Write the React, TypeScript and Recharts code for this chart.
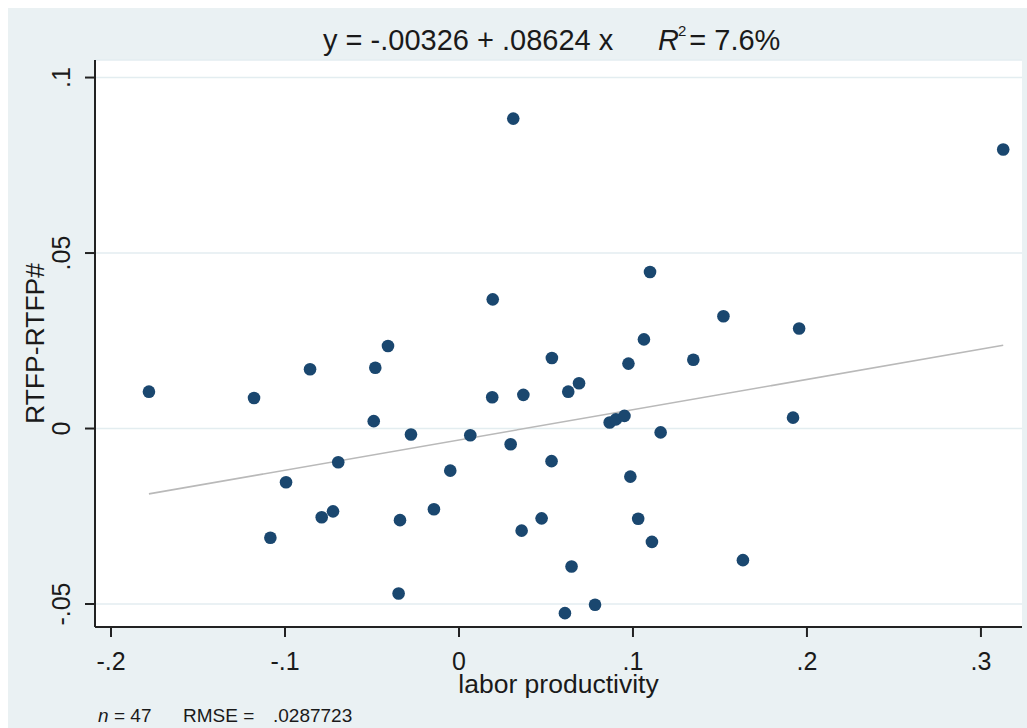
import { CartesianGrid, Scatter, ScatterChart, XAxis, YAxis } from "recharts";

// labor productivity (x) and RTFP-RTFP# (y)
const laborProductivity = [
  -0.1782, -0.1178, -0.0856, -0.0481, -0.0408, -0.049, -0.0276, 0.0065, 0.0191, 0.037,
  0.0534, 0.0297, 0.0532, -0.0694, -0.005, -0.0994, -0.0789, -0.0724, -0.0339, -0.0144,
  -0.0347, 0.036, 0.0475, -0.1084, 0.0312, 0.3128, 0.1098, 0.0194, 0.152, 0.1955,
  0.1063, 0.0974, 0.1347, 0.0628, 0.069, 0.0866, 0.0902, 0.0951, 0.192, 0.1159,
  0.0985, 0.103, 0.1109, 0.0647, 0.1632, 0.0782, 0.0609,
];
const rtfpGap = [
  0.0105, 0.0087, 0.0169, 0.0173, 0.0235, 0.0021, -0.0017, -0.0019, 0.0089, 0.0096,
  0.0201, -0.0045, -0.0093, -0.0096, -0.012, -0.0153, -0.0253, -0.0236, -0.0261, -0.023,
  -0.047, -0.0291, -0.0256, -0.0311, 0.0883, 0.0795, 0.0446, 0.0368, 0.032, 0.0285,
  0.0254, 0.0185, 0.0196, 0.0105, 0.0129, 0.0017, 0.0026, 0.0036, 0.0031, -0.0011,
  -0.0137, -0.0257, -0.0323, -0.0393, -0.0375, -0.0502, -0.0526,
];

const xTicks = [-0.2, -0.1, 0, 0.1, 0.2, 0.3];
const xTickLabels = ["-.2", "-.1", "0", ".1", ".2", ".3"];
const yTicks = [-0.05, 0, 0.05, 0.1];
const yTickLabels = ["-.05", "0", ".05", ".1"];

const fitIntercept = -0.00326;
const fitSlope = 0.08624;

const points = laborProductivity.map((x, i) => ({ x, y: rtfpGap[i] }));
const xMin = Math.min(...laborProductivity);
const xMax = Math.max(...laborProductivity);
const fitLine = [xMin, xMax].map((x) => ({ x, y: fitIntercept + fitSlope * x }));

const FONT = "'Liberation Sans', Arial, sans-serif";
const TEXT = "#1a1a1a";
const NAVY = "#1a476f";

const YTick = (props: any) => {
  const { x, y, index } = props;
  return (
    <text
      x={x}
      y={y}
      transform={`rotate(-90 ${x} ${y})`}
      textAnchor="middle"
      fontSize={25}
      fontFamily={FONT}
      fill={TEXT}
    >
      {yTickLabels[index]}
    </text>
  );
};

const Dot = (props: any) => <circle cx={props.cx} cy={props.cy} r={6.3} fill={NAVY} />;

export default function App() {
  const W = 1019;
  const H = 720;
  return (
    <div style={{ position: "fixed", left: 8, top: 8, width: W, height: H, background: "#eaf1f3" }}>
      <ScatterChart width={W} height={H} margin={{ top: 52, right: 5, bottom: 31, left: 0 }}>
        <CartesianGrid horizontal vertical={false} fill="#ffffff" stroke="#e3edf0" strokeWidth={1.5} />
        <XAxis
          type="number"
          dataKey="x"
          domain={[-0.2092, 0.3236]}
          allowDataOverflow
          ticks={xTicks}
          tickFormatter={(v: number) => xTickLabels[xTicks.indexOf(v)] ?? String(v)}
          height={70}
          tickSize={10}
          tickMargin={15}
          tick={{ fontSize: 25, fontFamily: FONT, fill: TEXT }}
          axisLine={{ stroke: "#222", strokeWidth: 2 }}
          tickLine={{ stroke: "#222", strokeWidth: 2 }}
          label={{
            value: "labor productivity",
            position: "insideBottom",
            offset: 4,
            style: { fontSize: 26.5, fontFamily: FONT, fill: TEXT },
          }}
        />
        <YAxis
          type="number"
          dataKey="y"
          domain={[-0.05655, 0.105]}
          allowDataOverflow
          ticks={yTicks}
          width={87}
          tickSize={10}
          tickMargin={15}
          tick={<YTick />}
          axisLine={{ stroke: "#222", strokeWidth: 2 }}
          tickLine={{ stroke: "#222", strokeWidth: 2 }}
          label={{
            value: "RTFP-RTFP#",
            angle: -90,
            position: "insideLeft",
            offset: 27,
            style: { fontSize: 26.5, fontFamily: FONT, fill: TEXT, textAnchor: "middle" },
          }}
        />
        <Scatter
          data={fitLine}
          line={{ stroke: "#b9b9b9", strokeWidth: 1.6 }}
          shape={() => <g />}
          isAnimationActive={false}
        />
        <Scatter data={points} shape={<Dot />} isAnimationActive={false} />
      </ScatterChart>
      <svg
        width={W}
        height={H}
        style={{ position: "absolute", left: 0, top: 0, pointerEvents: "none" }}
        fontFamily={FONT}
        fill={TEXT}
      >
        <text x={315} y={42} fontSize={29}>
          y = -.00326 + .08624 x
        </text>
        <text x={650} y={42} fontSize={29}>
          <tspan fontStyle="italic">R</tspan>
          <tspan fontSize={15} dy={-14} dx={-1}>2</tspan>
          <tspan dy={14} dx={3}>= 7.6%</tspan>
        </text>
        <text y={714} fontSize={19}>
          <tspan x={90} fontStyle="italic">n</tspan>
          <tspan x={106}>= 47</tspan>
          <tspan x={175}>RMSE =</tspan>
          <tspan x={265}>.0287723</tspan>
        </text>
      </svg>
    </div>
  );
}
